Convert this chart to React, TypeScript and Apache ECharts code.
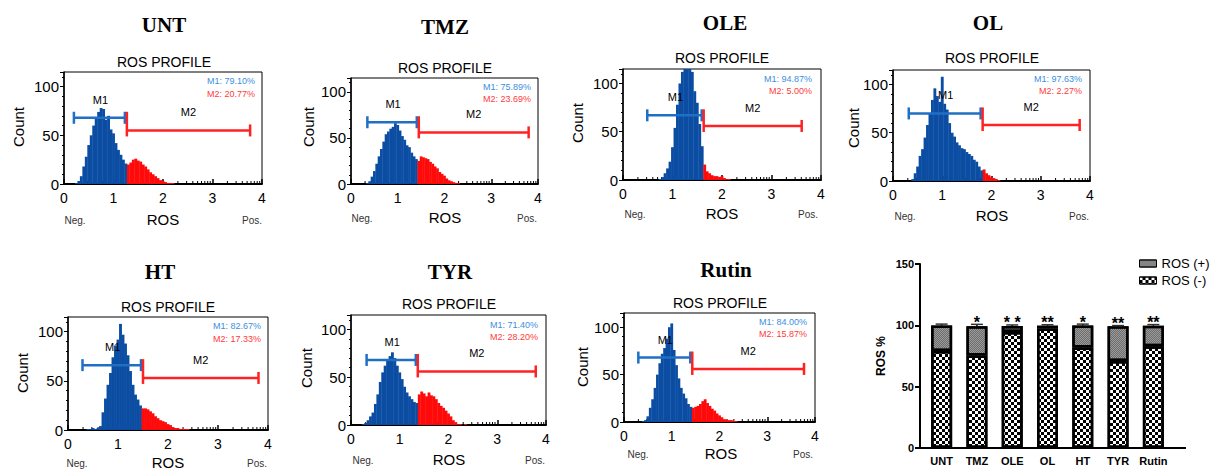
import React, { useEffect, useRef } from "react";
import * as echarts from "echarts";

// ---------- data ----------
const panelNames = ["UNT", "TMZ", "OLE", "OL", "HT", "TYR", "Rutin"];
const binWidth = 0.05;
const histStart = [0.2, 0.3, 0.7, 0.35, 0.4, 0.25, 0.4];

const untCounts = [0, 1, 3, 8, 18, 28, 40, 50, 60, 68, 74, 78, 77, 66, 70, 56, 52, 42, 35, 30, 25, 21, 20, 22, 25, 26, 24, 23, 20, 18, 15, 12, 10, 8, 6, 4, 3, 2, 1, 1, 1];
const tmzCounts = [0, 1, 3, 8, 14, 22, 30, 38, 46, 54, 57, 60, 62, 66, 64, 58, 52, 48, 42, 40, 34, 30, 27, 25, 30, 29, 28, 27, 24, 22, 19, 17, 13, 11, 9, 6, 4, 3, 2, 1, 1];
const oleCounts = [0, 1, 3, 7, 12, 19, 34, 54, 78, 100, 112, 125, 130, 128, 112, 92, 80, 58, 35, 16, 9, 7, 5, 4, 4, 3, 4, 2, 1, 1];
const olCounts = [0, 2, 8, 15, 26, 33, 45, 58, 70, 84, 96, 88, 82, 108, 80, 74, 60, 50, 46, 40, 37, 34, 33, 30, 28, 26, 22, 20, 15, 11, 12, 8, 6, 4, 3, 2, 1];
const htCounts = [1, 1, 2, 1, 2, 4, 18, 32, 46, 58, 74, 86, 92, 108, 97, 88, 76, 60, 46, 36, 31, 25, 22, 22, 21, 19, 17, 14, 12, 10, 9, 8, 6, 5, 3, 2, 2, 1, 1, 1, 1];
const tyrCounts = [1, 2, 5, 9, 13, 22, 32, 45, 55, 62, 68, 72, 76, 70, 62, 55, 48, 40, 34, 30, 27, 24, 23, 32, 35, 33, 30, 34, 31, 30, 27, 23, 20, 18, 15, 12, 9, 5, 3, 1, 1, 0, 1];
const rutinCounts = [1, 2, 6, 15, 24, 36, 50, 62, 72, 78, 88, 100, 104, 76, 60, 46, 36, 30, 25, 19, 16, 15, 16, 17, 19, 22, 24, 20, 17, 14, 12, 9, 7, 5, 3, 3, 2, 2, 1, 1];
const histCounts = [untCounts, tmzCounts, oleCounts, olCounts, htCounts, tyrCounts, rutinCounts];

const gateX = [1.27, 1.45, 1.63, 1.82, 1.5, 1.37, 1.43];
const m1Start = [0.2, 0.35, 0.49, 0.32, 0.29, 0.32, 0.3];
const m1Level = [68, 67, 67, 70, 66, 68, 68];
const m2End = [3.76, 3.8, 3.61, 3.79, 3.81, 3.79, 3.77];
const m2Level = [55, 56, 56, 58, 53, 56, 56];
const m1Pct = ["79.10%", "75.89%", "94.87%", "97.63%", "82.67%", "71.40%", "84.00%"];
const m2Pct = ["20.77%", "23.69%", "5.00%", "2.27%", "17.33%", "28.20%", "15.87%"];

const logDecades = [0, 1, 2, 3];
const logOffsets = [0.301, 0.477, 0.602, 0.699, 0.778, 0.845, 0.903, 0.954];

const barCategories = ["UNT", "TMZ", "OLE", "OL", "HT", "TYR", "Rutin"];
const rosNeg = [79, 75.5, 94.5, 97.5, 82, 71, 83];
const rosPos = [20.8, 23.8, 5.0, 2.2, 17.8, 28.2, 16.6];
const rosErr = [1.2, 1.5, 0.8, 0.8, 1.2, 0.6, 1.0];
const sigStars = ["", "*", "* *", "**", "*", "**", "**"];

// ---------- layout ----------
const layouts = [
  { left: 64, top: 72, width: 198, height: 112, title: [164, 25], profile: [164, 62], count: [18, 127], labelY: 219, neg: 75, ros: 163, pos: 252, pctX: 255, pctY: [81, 94] },
  { left: 351, top: 78, width: 187, height: 106, title: [445, 27], profile: [445, 68], count: [308, 127], labelY: 217, neg: 362, ros: 445, pos: 527, pctX: 531, pctY: [87, 99] },
  { left: 623, top: 69, width: 198, height: 111, title: [725, 23], profile: [722, 58], count: [577, 123], labelY: 213, neg: 635, ros: 722, pos: 808, pctX: 812, pctY: [79, 91] },
  { left: 893, top: 70, width: 197, height: 111, title: [988, 23], profile: [992, 58], count: [853, 128], labelY: 215, neg: 905, ros: 992, pos: 1079, pctX: 1082, pctY: [79, 91] },
  { left: 68, top: 317, width: 200, height: 113, title: [160, 272], profile: [168, 307], count: [22, 373], labelY: 462, neg: 77, ros: 168, pos: 257, pctX: 261, pctY: [326, 339] },
  { left: 351, top: 315, width: 195, height: 110, title: [450, 272], profile: [449, 304], count: [306, 368], labelY: 459, neg: 363, ros: 449, pos: 535, pctX: 538, pctY: [325, 337] },
  { left: 624, top: 313, width: 191, height: 109, title: [726, 270], profile: [720, 303], count: [582, 367], labelY: 453, neg: 638, ros: 721, pos: 803, pctX: 807, pctY: [322, 334] },
];

const FONT = "Liberation Sans, Arial, sans-serif";
const SERIF = "Liberation Serif, Times New Roman, serif";
const histBlue = "#0b4da2";
const histRed = "#ff0a0a";
const markBlue = "#1f6fc5";
const markRed = "#ff2222";
const pctBlue = "#3b8fe0";
const pctRed = "#ff3a3a";

function txt(x: number, y: number, text: string, o: any = {}) {
  return {
    type: "text",
    x,
    y,
    rotation: o.rotation || 0,
    silent: true,
    style: {
      text,
      fontSize: o.fontSize || 14,
      fontFamily: o.fontFamily || FONT,
      fontWeight: o.fontWeight || "normal",
      fill: o.fill || "#000",
      align: o.align || "center",
      verticalAlign: "middle",
      textAlign: o.align || "center",
      textVerticalAlign: "middle",
    },
  };
}

function buildOption() {
  const grid: any[] = [];
  const xAxis: any[] = [];
  const yAxis: any[] = [];
  const series: any[] = [];
  const graphic: any[] = [];

  const minorTickData: number[][] = [];
  logDecades.forEach((d) => logOffsets.forEach((o) => minorTickData.push([d + o, 0])));

  panelNames.forEach((name, i) => {
    const L = layouts[i];
    grid.push({ left: L.left, top: L.top, width: L.width, height: L.height, show: true, borderColor: "#000", borderWidth: 1, backgroundColor: "transparent" });
    xAxis.push({
      type: "value", gridIndex: i, min: 0, max: 4, interval: 1,
      axisLine: { show: true, onZero: false, lineStyle: { color: "#000", width: 2 } },
      axisTick: { show: true, inside: true, length: 5, lineStyle: { color: "#000", width: 1.5 } },
      axisLabel: { fontSize: 14, color: "#000", margin: 7, fontFamily: FONT },
      splitLine: { show: false },
    });
    yAxis.push({
      type: "value", gridIndex: i, min: 0, max: 115, interval: 50,
      axisLine: { show: true, onZero: false, lineStyle: { color: "#000", width: 1.5 } },
      axisTick: { show: true, length: 4, lineStyle: { color: "#000" } },
      minorTick: { show: true, splitNumber: 5, length: 2, lineStyle: { color: "#000" } },
      axisLabel: { fontSize: 15, color: "#000", margin: 5, showMaxLabel: false, fontFamily: FONT },
      splitLine: { show: false },
    });
    const counts = histCounts[i];
    const gate = gateX[i];
    const bins = counts.map((c, k) => [+(histStart[i] + k * binWidth).toFixed(3), c]);
    series.push({
      type: "bar", xAxisIndex: i, yAxisIndex: i, data: bins, silent: true, clip: true,
      barWidth: (L.width / 4) * binWidth + 0.4,
      itemStyle: { color: (p: any) => (p.value[0] < gate ? histBlue : histRed) },
    });
    series.push({
      type: "custom", xAxisIndex: i, yAxisIndex: i, silent: true, clip: false,
      data: minorTickData,
      renderItem: (_p: any, api: any) => {
        const pt = api.coord([api.value(0), 0]);
        return { type: "line", shape: { x1: pt[0], y1: pt[1], x2: pt[0], y2: pt[1] - 3 }, style: { stroke: "#000", lineWidth: 1 } };
      },
    });
    series.push({
      type: "custom", xAxisIndex: i, yAxisIndex: i, silent: true, clip: false, z: 5,
      data: [[gate, m1Level[i]]],
      renderItem: (_p: any, api: any) => {
        const a = api.coord([m1Start[i], m1Level[i]]);
        const b = api.coord([gate, m1Level[i]]);
        const c = api.coord([gate, m2Level[i]]);
        const d = api.coord([m2End[i], m2Level[i]]);
        const cap = 6;
        const blue = { stroke: markBlue, lineWidth: 2.5 };
        const red = { stroke: markRed, lineWidth: 2.5 };
        const lbl = (t: string, x: number, y: number) => ({
          type: "text",
          style: { text: t, x, y, align: "center", verticalAlign: "middle", textAlign: "center", textVerticalAlign: "middle", fontSize: 11, fontFamily: FONT, fill: "#000" },
        });
        return {
          type: "group",
          children: [
            { type: "line", shape: { x1: a[0], y1: a[1], x2: b[0] - 2, y2: b[1] }, style: blue },
            { type: "line", shape: { x1: a[0], y1: a[1] - cap, x2: a[0], y2: a[1] + cap }, style: blue },
            { type: "line", shape: { x1: b[0] - 2, y1: b[1] - cap, x2: b[0] - 2, y2: b[1] + cap }, style: blue },
            { type: "line", shape: { x1: c[0], y1: c[1], x2: d[0], y2: d[1] }, style: red },
            { type: "line", shape: { x1: c[0], y1: b[1] - cap, x2: c[0], y2: c[1] + cap }, style: red },
            { type: "line", shape: { x1: d[0], y1: d[1] - cap, x2: d[0], y2: d[1] + cap }, style: red },
            lbl("M1", (a[0] + b[0]) / 2, a[1] - 18),
            lbl("M2", (c[0] + d[0]) / 2, c[1] - 18),
          ],
        };
      },
    });

    graphic.push(txt(L.title[0], L.title[1], name, { fontSize: 21, fontWeight: "bold", fontFamily: SERIF }));
    graphic.push(txt(L.profile[0], L.profile[1], "ROS PROFILE", { fontSize: 14 }));
    graphic.push(txt(L.count[0], L.count[1], "Count", { fontSize: 15, rotation: Math.PI / 2 }));
    graphic.push(txt(L.ros, L.labelY, "ROS", { fontSize: 15 }));
    graphic.push(txt(L.neg, L.labelY + 1, "Neg.", { fontSize: 10, fill: "#333" }));
    graphic.push(txt(L.pos, L.labelY + 1, "Pos.", { fontSize: 10, fill: "#333" }));
    graphic.push(txt(L.pctX, L.pctY[0], "M1: " + m1Pct[i], { fontSize: 9, fill: pctBlue, align: "right" }));
    graphic.push(txt(L.pctX, L.pctY[1], "M2: " + m2Pct[i], { fontSize: 9, fill: pctRed, align: "right" }));
  });

  // ---------- stacked bar chart ----------
  const bi = panelNames.length;
  grid.push({ left: 924, top: 264, width: 247, height: 184 });
  xAxis.push({
    type: "category", gridIndex: bi, data: barCategories,
    axisLine: { lineStyle: { color: "#000", width: 2 } },
    axisTick: { alignWithLabel: true, length: 4, lineStyle: { color: "#000", width: 2 } },
    axisLabel: { interval: 0, fontSize: 11, fontWeight: "bold", color: "#000", margin: 7, fontFamily: FONT },
  });
  yAxis.push({
    type: "value", gridIndex: bi, min: 0, max: 150, interval: 50, offset: 4,
    axisLine: { show: true, lineStyle: { color: "#000", width: 2 } },
    axisTick: { show: true, length: 5, lineStyle: { color: "#000", width: 2 } },
    axisLabel: { fontSize: 11, fontWeight: "bold", color: "#000", margin: 6, fontFamily: FONT },
    splitLine: { show: false },
    name: "ROS %", nameLocation: "middle", nameGap: 33,
    nameTextStyle: { fontSize: 12, fontWeight: "bold", color: "#000", fontFamily: FONT },
  });
  series.push({
    name: "ROS (-)", type: "bar", stack: "ros", xAxisIndex: bi, yAxisIndex: bi, data: rosNeg, barWidth: 21,
    itemStyle: {
      color: "#ffffff", borderColor: "#000", borderWidth: 2.5,
      decal: { symbol: "rect", symbolSize: 1, dashArrayX: [[3, 3], [0, 3, 3, 0]], dashArrayY: [3, 0], color: "#000" },
    },
  });
  series.push({
    name: "ROS (+)", type: "bar", stack: "ros", xAxisIndex: bi, yAxisIndex: bi, data: rosPos, barWidth: 21,
    itemStyle: {
      color: "#9a9a9a", borderColor: "#000", borderWidth: 2.5,
      decal: { symbol: "rect", symbolSize: 1, dashArrayX: [[1, 1], [0, 1, 1, 0]], dashArrayY: [1, 0], color: "#6e6e6e" },
    },
  });
  series.push({
    type: "custom", xAxisIndex: bi, yAxisIndex: bi, silent: true, clip: false, z: 5,
    data: barCategories.map((_c, k) => [k, rosNeg[k] + rosPos[k], rosErr[k]]),
    renderItem: (p: any, api: any) => {
      const k = api.value(0);
      const base = api.coord([k, api.value(1)]);
      const top = api.coord([k, api.value(1) + api.value(2)]);
      return {
        type: "group",
        children: [
          { type: "line", shape: { x1: base[0], y1: base[1], x2: top[0], y2: top[1] }, style: { stroke: "#000", lineWidth: 1.5 } },
          { type: "line", shape: { x1: top[0] - 6, y1: top[1], x2: top[0] + 6, y2: top[1] }, style: { stroke: "#333", lineWidth: 1.5 } },
          {
            type: "text",
            style: { text: sigStars[p.dataIndex], x: top[0], y: top[1] - 2, align: "center", verticalAlign: "middle", textAlign: "center", textVerticalAlign: "middle", fontSize: 16, fontWeight: "bold", fontFamily: FONT, fill: "#000" },
          },
        ],
      };
    },
  });
  graphic.push({ type: "line", silent: true, shape: { x1: 919, y1: 448, x2: 1186, y2: 448 }, style: { stroke: "#000", lineWidth: 2 } });

  return {
    animation: false,
    backgroundColor: "#ffffff",
    textStyle: { fontFamily: FONT },
    legend: {
      data: ["ROS (+)", "ROS (-)"], orient: "vertical", left: 1134, top: 252,
      itemWidth: 17, itemHeight: 7, itemGap: 4, icon: "rect",
      itemStyle: { borderWidth: 1 },
      textStyle: { fontSize: 13, color: "#000", fontFamily: FONT },
      selectedMode: false,
    },
    grid, xAxis, yAxis, series, graphic,
  };
}

export default function App() {
  const ref = useRef<HTMLDivElement>(null);
  useEffect(() => {
    document.body.style.margin = "0";
    const chart = echarts.init(ref.current as HTMLDivElement, undefined, { renderer: "svg" });
    chart.setOption(buildOption() as any);
    return () => chart.dispose();
  }, []);
  return <div ref={ref} style={{ position: "absolute", left: 0, top: 0, width: 1212, height: 472, background: "#fff" }} />;
}
